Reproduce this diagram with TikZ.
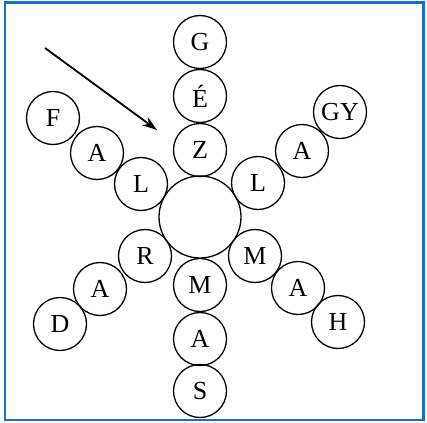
\documentclass[tikz,border=0pt]{standalone}
\usepackage{fontspec}
\setmainfont{Liberation Serif}
\usetikzlibrary{arrows.meta}
\definecolor{frameblue}{RGB}{25,110,200}
\begin{document}
\begin{tikzpicture}[x=1pt,y=-1pt,
  letter/.style={circle,draw,line width=1.3pt,minimum size=53pt,inner sep=0pt,font=\fontsize{26}{26}\selectfont},
  hub/.style={circle,draw,line width=1.3pt,minimum size=82pt,inner sep=0pt},
  pointer/.style={line width=1.8pt,-{Stealth[length=15pt,width=10pt]}}]
\useasboundingbox (0,0) rectangle (427,422);
\draw[frameblue,line width=2.2pt] (5,2.5) rectangle (423.5,420);
\node[hub] (c) at (200,217) {};
% top
\node[letter] (z) at (200,150) {Z};
\node[letter] (e) at (200,96) {É};
\node[letter] (g) at (200,42) {G};
% bottom
\node[letter] (m1) at (200,285) {M};
\node[letter] (a1) at (200,339) {A};
\node[letter] (s) at (200,391) {S};
% upper right
\node[letter] (l1) at (258,183) {L};
\node[letter] (a2) at (302,151) {A};
\node[letter] (gy) at (340,112) {GY};
% upper left
\node[letter] (l2) at (141,184) {L};
\node[letter] (a3) at (97,153) {A};
\node[letter] (f) at (53,118) {F};
% lower left
\node[letter] (r) at (145,256) {R};
\node[letter] (a4) at (100,289) {A};
\node[letter] (d) at (60,324) {D};
% lower right
\node[letter] (m2) at (255,256) {M};
\node[letter] (a5) at (298,288) {A};
\node[letter] (h) at (338,322) {H};
% arrow
\coordinate (p0) at (45,48);
\coordinate (p1) at (157,130);
\draw[pointer] (p0) -- (p1);
\end{tikzpicture}
\end{document}
